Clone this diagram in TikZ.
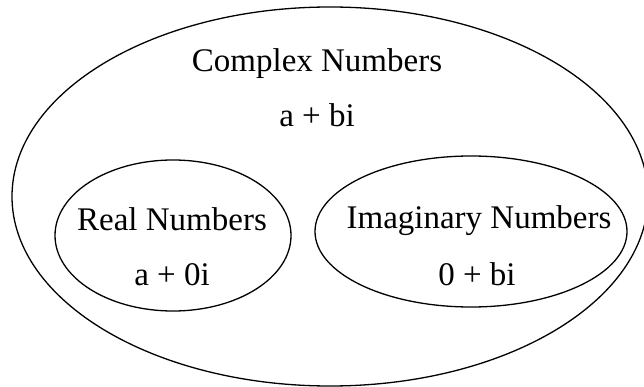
\documentclass[tikz,border=0pt]{standalone}
\usepackage{fontspec}
\setmainfont{Liberation Serif}
\usetikzlibrary{shapes.geometric}

\begin{document}
\begin{tikzpicture}[
    x=1pt, y=-1pt,
    every node/.style = {font=\fontsize{33}{38}\selectfont},
    setshape/.style = {draw, ellipse, line width=1.3pt, inner sep=0pt},
    label/.style = {inner sep=0pt, anchor=base}
]
  \useasboundingbox (0,0) rectangle (644,387);
  % sets
  \node[setshape, minimum width=636pt, minimum height=379pt] (complex) at (330,196.5) {};
  \node[setshape, minimum width=236pt, minimum height=151pt] (real) at (173,235.5) {};
  \node[setshape, minimum width=312pt, minimum height=151pt] (imag) at (471,231.5) {};
  % texts
  \node[label] (complexname) at (317,72) {Complex Numbers};
  \node[label] (complexform) at (317,127) {a + bi};
  \node[label] (realname) at (172,230) {Real Numbers};
  \node[label] (realform) at (172,285) {a + 0i};
  \node[label] (imagname) at (479,229) {Imaginary Numbers};
  \node[label] (imagform) at (477,285) {0 + bi};
\end{tikzpicture}
\end{document}
